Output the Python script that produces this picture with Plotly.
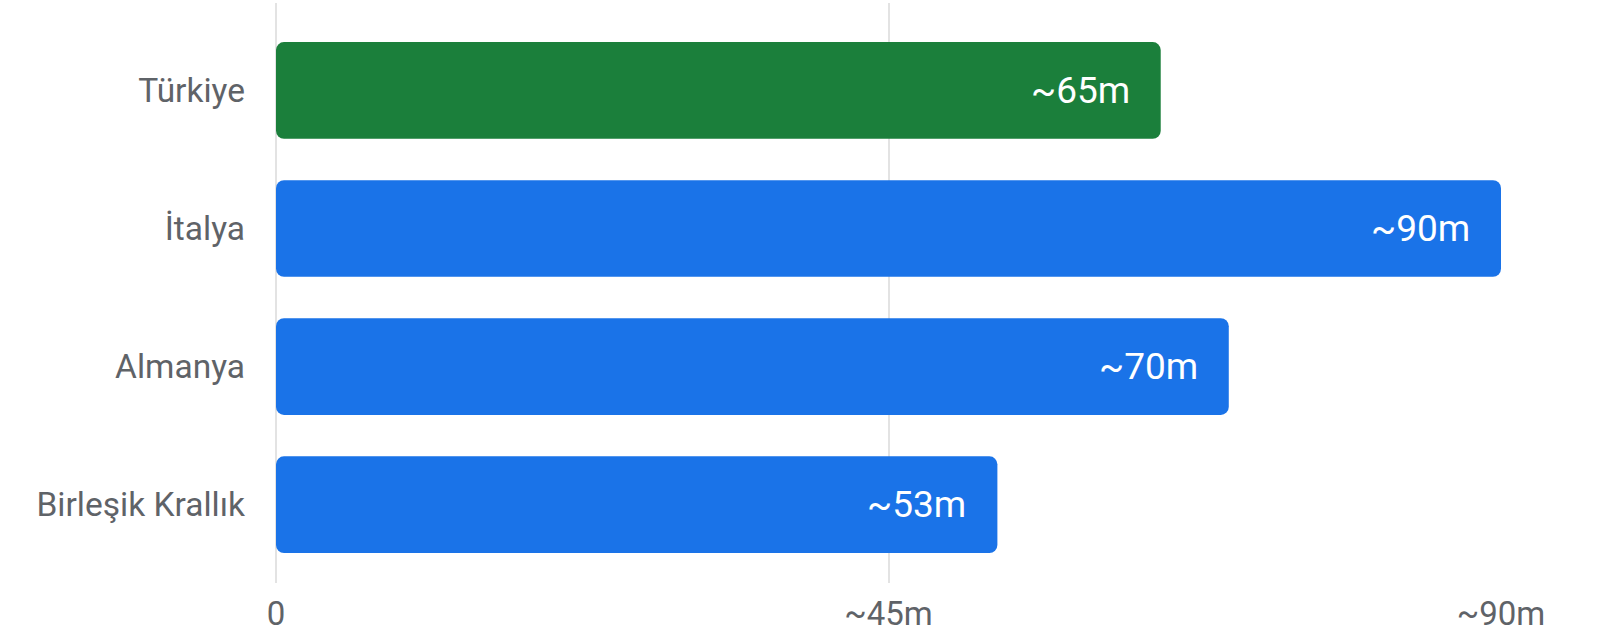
import plotly.graph_objects as go

countries = ["Türkiye", "İtalya", "Almanya", "Birleşik Krallık"]
values = [65, 90, 70, 53]
value_labels = ["~65m", "~90m", "~70m", "~53m"]
bar_colors = ["#1b7f3b", "#1a73e8", "#1a73e8", "#1a73e8"]
tick_values = [0, 45, 90]
tick_labels = ["0", "~45m", "~90m"]

fig = go.Figure()
fig.add_trace(go.Bar(
    y=countries, x=values, base=[0] * len(values), orientation="h",
    marker=dict(color=bar_colors, line=dict(width=0)), showlegend=False,
    hovertemplate="%{y}: %{customdata}<extra></extra>", customdata=value_labels,
))

for c, v, t in zip(countries, values, value_labels):
    fig.add_annotation(x=v, y=c, text=t, showarrow=False, xanchor="right", xshift=-29,
                       font=dict(family="Roboto", size=37, color="white"))

fig.update_layout(
    width=1599, height=636,
    margin=dict(l=276, r=98, t=3, b=53),
    bargap=0.3, barcornerradius=8,
    plot_bgcolor="white", paper_bgcolor="white",
    font=dict(family="Roboto", color="#5f6368", size=33),
)
fig.update_xaxes(
    range=[0, 90], tickvals=tick_values, ticktext=tick_labels,
    showgrid=True, gridcolor="#e3e3e3", gridwidth=2,
    zeroline=True, zerolinecolor="#e3e3e3", zerolinewidth=2,
    showline=False, ticks="", ticklabelstandoff=8,
    tickfont=dict(family="Roboto", size=33, color="#5f6368"),
)
fig.update_yaxes(
    categoryorder="array", categoryarray=countries, range=[3.567, -0.633],
    showgrid=False, zeroline=False, showline=False, ticks="", ticklabelstandoff=30,
    tickfont=dict(family="Roboto", size=33.5, color="#5f6368"),
)

fig.write_html("out.html", config={"displayModeBar": False},
               post_script="document.body.style.margin='0';")
